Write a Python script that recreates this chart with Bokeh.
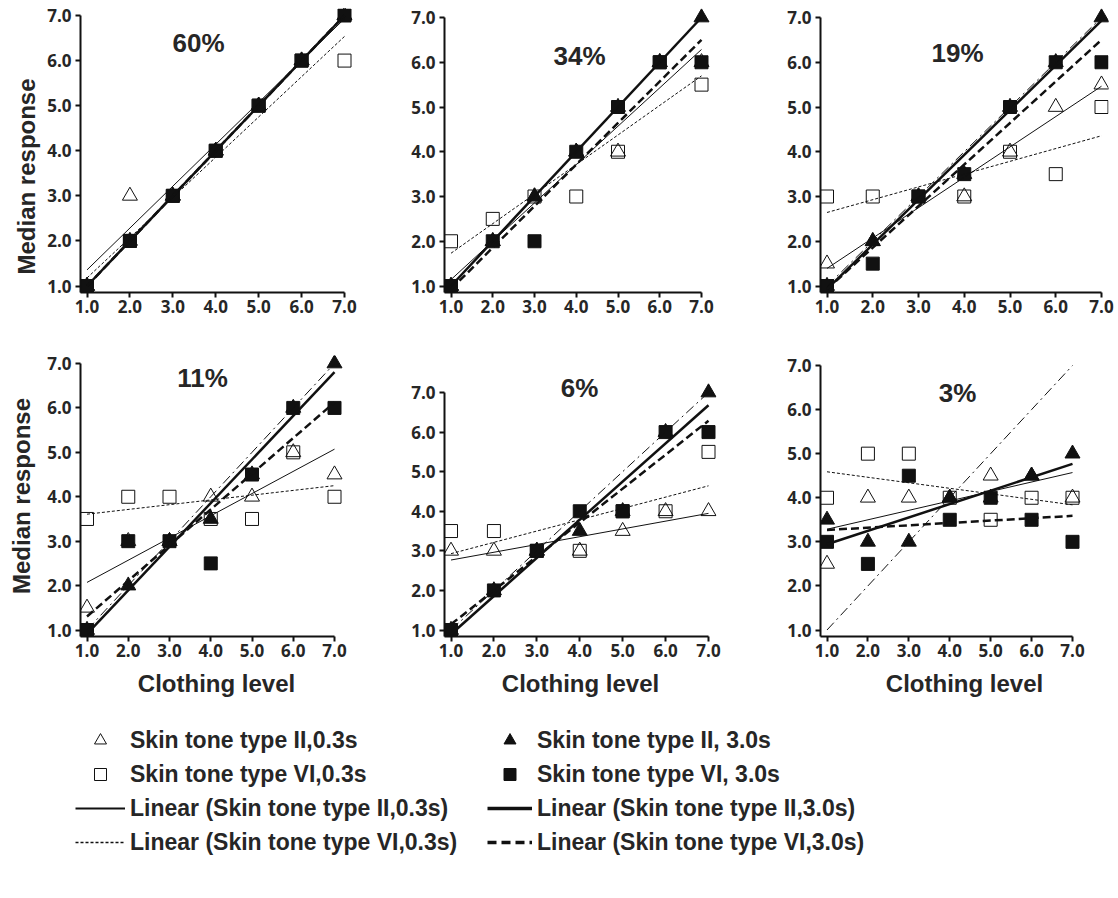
import numpy as np
from bokeh.plotting import figure
from bokeh.layouts import column, row
from bokeh.models import FixedTicker, PrintfTickFormatter, Label, Legend, LegendItem, Range1d, Title
from bokeh.embed import file_html
from bokeh.resources import INLINE

# ---------------- data ----------------
clothing_level = [1, 2, 3, 4, 5, 6, 7]
tick_values = [1, 2, 3, 4, 5, 6, 7]
panel_titles = ["60%", "34%", "19%", "11%", "6%", "3%"]

# Skin tone type II, 0.3 s (open triangles)
p60_II_03 = [1, 3, 3, 4, 5, 6, 7]
p34_II_03 = [1, 2, 3, 4, 4, 6, 6]
p19_II_03 = [1.5, 2, 3, 3, 4, 5, 5.5]
p11_II_03 = [1.5, 3, 3, 4, 4, 5, 4.5]
p06_II_03 = [3, 3, 3, 3, 3.5, 4, 4]
p03_II_03 = [2.5, 4, 4, 4, 4.5, 4.5, 4]

# Skin tone type II, 3.0 s (filled triangles)
p60_II_30 = [1, 2, 3, 4, 5, 6, 7]
p34_II_30 = [1, 2, 3, 4, 5, 6, 7]
p19_II_30 = [1, 2, 3, 3.5, 5, 6, 7]
p11_II_30 = [1, 2, 3, 3.5, 4.5, 6, 7]
p06_II_30 = [1, 2, 3, 3.5, 4, 6, 7]
p03_II_30 = [3.5, 3, 3, 4, 4, 4.5, 5]

# Skin tone type VI, 0.3 s (open squares)
p60_VI_03 = [1, 2, 3, 4, 5, 6, 6]
p34_VI_03 = [2, 2.5, 3, 3, 4, 6, 5.5]
p19_VI_03 = [3, 3, 3, 3, 4, 3.5, 5]
p11_VI_03 = [3.5, 4, 4, 3.5, 3.5, 5, 4]
p06_VI_03 = [3.5, 3.5, 3, 3, 4, 4, 5.5]
p03_VI_03 = [4, 5, 5, 4, 3.5, 4, 4]

# Skin tone type VI, 3.0 s (filled squares)
p60_VI_30 = [1, 2, 3, 4, 5, 6, 7]
p34_VI_30 = [1, 2, 2, 4, 5, 6, 6]
p19_VI_30 = [1, 1.5, 3, 3.5, 5, 6, 6]
p11_VI_30 = [1, 3, 3, 2.5, 4.5, 6, 6]
p06_VI_30 = [1, 2, 3, 4, 4, 6, 6]
p03_VI_30 = [3, 2.5, 4.5, 3.5, 4, 3.5, 3]

II_03 = [p60_II_03, p34_II_03, p19_II_03, p11_II_03, p06_II_03, p03_II_03]
II_30 = [p60_II_30, p34_II_30, p19_II_30, p11_II_30, p06_II_30, p03_II_30]
VI_03 = [p60_VI_03, p34_VI_03, p19_VI_03, p11_VI_03, p06_VI_03, p03_VI_03]
VI_30 = [p60_VI_30, p34_VI_30, p19_VI_30, p11_VI_30, p06_VI_30, p03_VI_30]

legend_labels = ["Skin tone type II,0.3s", "Skin tone type VI,0.3s",
                 "Linear (Skin tone type II,0.3s)", "Linear (Skin tone type VI,0.3s)",
                 "Skin tone type II, 3.0s", "Skin tone type VI, 3.0s",
                 "Linear (Skin tone type II,3.0s)", "Linear (Skin tone type VI,3.0s)"]
y_title = "Median response"
x_title = "Clothing level"

# ---------------- layout geometry (page pixels, origin at top-left) ----------------
INK = "#111111"
TXT = "#262626"

col_x0 = [0, 372, 744]          # figure left edge
col_w = [372, 372, 374]         # figure width
col_L = [80, 444, 820]          # common frame left (page)
col_R = [352, 716, 1108]        # common frame right (page)
row_y0 = [0, 326]
row_h = [326, 388]
row_T = [8, 355]                # common frame top (page)
row_B = [292, 636]              # common frame bottom (page)
PAD = 6.5                       # pixels between frame edge and the value 1.0

# per panel: px(7), py(7), title centre (page px)
panel_geom = [
    (344, 15, 198, 42),
    (701, 17, 579, 55),
    (1101, 17, 957, 52),
    (334, 363, 202, 377),
    (708, 392, 579, 387),
    (1072, 365, 957, 392),
]
ytitle_offset_p1 = 18           # shift of the y title of the top-left panel (px up from frame bottom)


def trend(xv, yv):
    c = np.polyfit(np.array(xv, float), np.array(yv, float), 1)
    xs = [min(xv), max(xv)]
    return xs, [float(np.polyval(c, v)) for v in xs]


def style_axis(ax):
    ax.axis_line_width = 2
    ax.axis_line_color = INK
    ax.major_tick_line_width = 2
    ax.major_tick_line_color = INK
    ax.major_tick_out = 5
    ax.major_tick_in = 0
    ax.minor_tick_line_color = None
    ax.ticker = FixedTicker(ticks=tick_values)
    ax.formatter = PrintfTickFormatter(format="%.1f")
    ax.major_label_text_font = "Open Sans"
    ax.major_label_text_font_style = "bold"
    ax.major_label_text_font_size = "17px"
    ax.major_label_text_color = TXT
    ax.axis_label_text_font = "Liberation Sans"
    ax.axis_label_text_font_style = "bold"
    ax.axis_label_text_font_size = "24px"
    ax.axis_label_text_color = TXT


figs = []
for i in range(6):
    r, c = divmod(i, 3)
    px7, py7, tpx, tpy = panel_geom[i]
    fx0, fw = col_x0[c], col_w[c]
    fy0, fh = row_y0[r], row_h[r]
    L, R, T, B = col_L[c], col_R[c], row_T[r], row_B[r]
    px1 = L + PAD
    py1 = B - PAD
    sx = (px7 - px1) / 6.0
    sy = (py1 - py7) / 6.0
    xa, xb = 1 - PAD / sx, 7 + (R - px7) / sx
    ya, yb = 1 - PAD / sy, 7 + (py7 - T) / sy
    p = figure(width=fw, height=fh, output_backend="svg", toolbar_location=None,
               x_range=Range1d(xa, xb), y_range=Range1d(ya, yb),
               min_border_left=L - fx0, min_border_right=fx0 + fw - R,
               min_border_top=T - fy0, min_border_bottom=fy0 + fh - B)
    p.outline_line_color = None
    p.grid.visible = False
    p.background_fill_color = "white"
    p.border_fill_color = "white"
    style_axis(p.xaxis[0])
    style_axis(p.yaxis[0])
    p.xaxis[0].bounds = (xa, 7)
    p.yaxis[0].bounds = (ya, 7)
    p.xaxis[0].major_label_standoff = 2
    p.yaxis[0].major_label_standoff = 4
    if i == 3:
        p.yaxis[0].axis_label = y_title
        p.yaxis[0].axis_label_standoff = 9
    if i == 0:
        p.add_layout(Title(text=y_title, align="left", offset=ytitle_offset_p1, standoff=10,
                           text_font="Liberation Sans", text_font_style="bold",
                           text_font_size="24px", text_color=TXT), "left")
    if r == 1:
        p.xaxis[0].axis_label = x_title
        p.xaxis[0].axis_label_standoff = 10

    x = clothing_level
    # markers
    p.scatter(x, II_03[i], marker="triangle", size=15, line_color=INK, line_width=1, fill_alpha=0)
    p.scatter(x, II_30[i], marker="triangle", size=15, line_color=INK, fill_color=INK)
    p.scatter(x, VI_03[i], marker="square", size=13, line_color=INK, line_width=1, fill_alpha=0)
    p.scatter(x, VI_30[i], marker="square", size=13, line_color=INK, fill_color=INK)
    # linear trend lines
    xs, ys = trend(x, II_03[i]); p.line(xs, ys, line_color=INK, line_width=1)
    xs, ys = trend(x, II_30[i]); p.line(xs, ys, line_color=INK, line_width=2.5)
    xs, ys = trend(x, VI_03[i]); p.line(xs, ys, line_color=INK, line_width=1, line_dash="3 2")
    xs, ys = trend(x, VI_30[i]); p.line(xs, ys, line_color=INK, line_width=2.5, line_dash="8 4")
    # identity reference (dash-dot)
    p.line(x, x, line_color=INK, line_width=1, line_dash="10 4 2 4")

    tx = 1 + (tpx - px1) / sx
    ty = 7 - (tpy - py7) / sy
    p.add_layout(Label(x=tx, y=ty, text=panel_titles[i], text_align="center", text_baseline="middle",
                       text_font="Liberation Sans", text_font_style="bold", text_font_size="26px",
                       text_color=TXT))
    figs.append(p)

# ---------------- legend figure ----------------
lg = figure(width=1104, height=180, output_backend="svg", toolbar_location=None,
            x_range=Range1d(0, 1), y_range=Range1d(0, 1),
            x_axis_location=None, y_axis_location=None,
            min_border_left=0, min_border_right=0, min_border_top=0, min_border_bottom=0)
lg.outline_line_color = None
lg.grid.visible = False
x = clothing_level
r_t_open = lg.scatter(x, p60_II_03, marker="triangle", size=15, line_color=INK, line_width=1, fill_alpha=0, visible=False)
r_s_open = lg.scatter(x, p60_VI_03, marker="square", size=13, line_color=INK, line_width=1, fill_alpha=0, visible=False)
r_l_thin = lg.line(x, p60_II_03, line_color=INK, line_width=2, visible=False)
r_l_thind = lg.line(x, p60_VI_03, line_color=INK, line_width=1.5, line_dash="3 2", visible=False)
r_t_fill = lg.scatter(x, p60_II_30, marker="triangle", size=15, line_color=INK, fill_color=INK, visible=False)
r_s_fill = lg.scatter(x, p60_VI_30, marker="square", size=13, line_color=INK, fill_color=INK, visible=False)
r_l_thick = lg.line(x, p60_II_30, line_color=INK, line_width=3.5, visible=False)
r_l_thickd = lg.line(x, p60_VI_30, line_color=INK, line_width=3.5, line_dash="9 5", visible=False)

left_r = [r_t_open, r_s_open, r_l_thin, r_l_thind]
right_r = [r_t_fill, r_s_fill, r_l_thick, r_l_thickd]


def make_legend(rs, labels, loc, gw):
    return Legend(items=[LegendItem(label=lab, renderers=[rr]) for lab, rr in zip(labels, rs)],
                  location=loc, orientation="vertical", glyph_width=gw, glyph_height=30,
                  label_standoff=5, spacing=4, padding=0, margin=0,
                  border_line_color=None, background_fill_alpha=0,
                  label_text_font="Liberation Sans", label_text_font_style="bold",
                  label_text_font_size="23px", label_text_color=TXT)


lg.add_layout(make_legend(left_r, legend_labels[:4], (75, 37), 50))
lg.add_layout(make_legend(right_r, legend_labels[4:], (487, 37), 45))

layout = column(row(figs[0], figs[1], figs[2]), row(figs[3], figs[4], figs[5]), lg)

with open("out.html", "w") as f:
    f.write(file_html(layout, INLINE))
